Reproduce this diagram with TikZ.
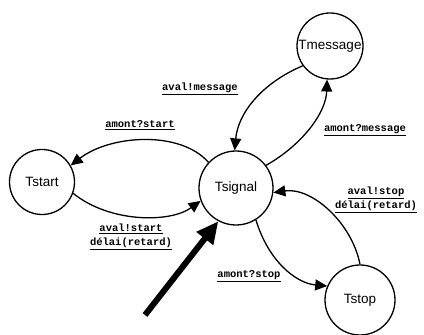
\documentclass[tikz,border=0pt]{standalone}
\usepackage{fontspec}
\setmainfont{Liberation Sans}
\newfontfamily\labfont{Liberation Mono}
\usetikzlibrary{arrows.meta}
\begin{document}
\begin{tikzpicture}[x=1pt,y=1pt,
  state/.style={draw,circle,line width=1.3pt,minimum size=#1,inner sep=0pt,font=\fontsize{13.5}{15}\selectfont},
  edge/.style={line width=1.3pt,-{Triangle[length=12pt,width=11pt]}},
  lab/.style={font=\labfont\bfseries\fontsize{10.5}{14}\selectfont,align=center,inner sep=0pt}]
\useasboundingbox (0,0) rectangle (424,335);
\node[state=65pt] (tstart) at (42,153) {Tstart};
\node[state=74pt] (tsig) at (236,147) {Tsignal};
\node[state=66pt] (tmsg) at (330,289) {Tmessage};
\node[state=70pt] (tstop) at (360,35) {Tstop};
\coordinate (init) at (145,20);
% edges
\draw[edge] (tsig.137) .. controls (180,205) and (110,200) .. (tstart.30);
\draw[edge] (tstart.-20) .. controls (110,112) and (170,112) .. (tsig.200);
\draw[edge] (tmsg.216) .. controls (262,252) and (238,222) .. (tsig.92);
\draw[edge] (tsig.37) .. controls (302,190) and (326,222) .. (tmsg.265);
\draw[edge] (tsig.-58) .. controls (268,75) and (295,52) .. (tstop.157);
\draw[edge] (tstop.90) .. controls (352,112) and (312,148) .. (tsig.-7);
\draw[line width=6pt,-{Triangle[length=22pt,width=20pt]}] (init) -- (tsig.242);
% labels
\node[lab] (l1) at (200,246) {\underline{aval!message}};
\node[lab] (l2) at (140,210) {\underline{amont?start}};
\node[lab] (l3) at (131,98) {\underline{aval!start}\\\underline{délai(retard)}};
\node[lab] (l4) at (365,205) {\underline{amont?message}};
\node[lab] (l5) at (376,135) {\underline{aval!stop}\\\underline{délai(retard)}};
\node[lab] (l6) at (249,59) {\underline{amont?stop}};
\end{tikzpicture}
\end{document}
